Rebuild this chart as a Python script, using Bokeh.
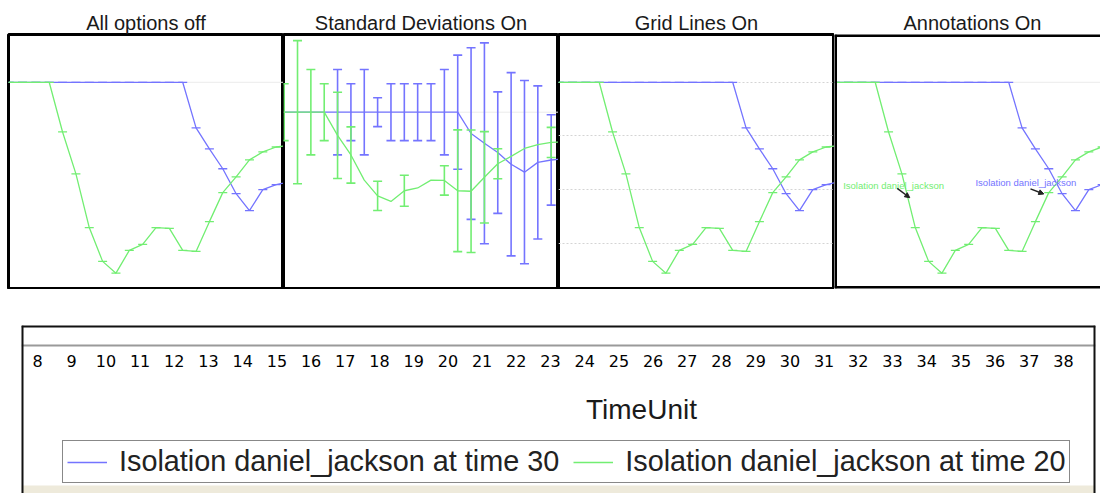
from bokeh.plotting import figure
from bokeh.layouts import column, row
from bokeh.models import (Range1d, Span, Arrow, NormalHead, Label, Legend, LegendItem,
                          FixedTicker, LinearAxis, ColumnDataSource, Grid, BoxAnnotation)
from bokeh.embed import file_html
from bokeh.resources import INLINE

# ---------------- data ----------------
panel_titles = ["All options off", "Standard Deviations On", "Grid Lines On", "Annotations On"]
time_index = list(range(0, 22))
blue_mean = [1.0, 1.0, 1.0, 1.0, 1.0, 1.0, 1.0, 1.0, 1.0, 1.0, 1.0, 1.0, 1.0, 1.0,
             0.830, 0.752, 0.678, 0.585, 0.522, 0.600, 0.619, 0.630]
green_mean = [1.0, 1.0, 1.0, 1.0, 0.815, 0.659, 0.459, 0.333, 0.289, 0.374, 0.396,
              0.459, 0.456, 0.374, 0.370, 0.481, 0.589, 0.648, 0.711, 0.741, 0.759, 0.765]
blue_std = [0, 0, 0, 0, 0.34, 0.227, 0.34, 0.115, 0.227, 0.227, 0.227, 0.227, 0.34,
            0.455, 0.684, 0.80, 0.484, 0.73, 0.73, 0.61, 0.36, 0.36]
green_std = [0.227, 0.57, 0.34, 0.227, 0.344, 0.224, 0, 0.117, 0, 0.123, 0, 0, 0.117,
             0.485, 0.488, 0.364, 0.12, 0, 0, 0, 0.12, 0.12]
grid_values = [0.4, 0.6, 0.8, 1.0]

annot_text = ["Isolation daniel_jackson", "Isolation daniel_jackson"]
annot_text_x = [0.60, 10.51]
annot_text_y = [0.615, 0.625]
annot_tail_x = [4.65, 14.63]
annot_tail_y = [0.605, 0.603]
annot_head_x = [5.59, 15.63]
annot_head_y = [0.570, 0.584]

time_ticks = list(range(8, 39))
x_axis_title = "TimeUnit"
legend_labels = ["Isolation daniel_jackson at time 30", "Isolation daniel_jackson at time 20"]

# ---------------- style ----------------
BLUE = "#7474ff"
GREEN = "#72ee72"
FONT = "Liberation Sans"
PX_PER_T = 13.35
X0 = -0.05
frame_widths = [275, 275, 276, 266]
left_pad = [8, 0, 0, 0]
yr_normal = (0.232, 1.178)
yr_std = (-0.405, 1.619)
ann_colors = [GREEN, BLUE]


def series_split(mean, std):
    xs, ys, lo, hi = [], [], [], []
    for t, m, s in zip(time_index, mean, std):
        if s > 0:
            xs.append(t); ys.append(m); lo.append(m - s); hi.append(m + s)
    return xs, ys, lo, hi


def make_panel(i):
    w = frame_widths[i]
    yr = yr_std if i == 1 else yr_normal
    p = figure(width=w + left_pad[i], height=289, title=panel_titles[i],
               x_range=Range1d(X0, X0 + w / PX_PER_T), y_range=Range1d(*yr),
               toolbar_location=None, output_backend="svg",
               x_axis_location=None, y_axis_location=None,
               min_border_left=left_pad[i], min_border_right=0,
               min_border_top=34, min_border_bottom=1)
    p.grid.visible = False
    p.background_fill_color = "white"
    p.border_fill_color = "white"
    p.title.text_font = FONT
    p.title.text_font_size = "20px"
    p.title.text_font_style = "normal"
    p.title.text_color = "#1a1a1a"
    p.title.align = "center"
    p.title.standoff = 2
    if i == 3:
        p.title.align = "left"
        p.title.offset = 69
        p.outline_line_color = None
        for loc, dim in ((X0, "height"), (yr[0], "width"), (yr[1], "width")):
            p.add_layout(Span(location=loc, dimension=dim, line_color="black", line_width=5))
    else:
        p.outline_line_color = "black"
        p.outline_line_width = 3

    if i == 2:
        p.add_layout(Grid(dimension=1, ticker=FixedTicker(ticks=grid_values),
                          grid_line_color="#d4d4d4", grid_line_dash="2 2", grid_line_width=1))
    else:
        p.add_layout(Span(location=max(blue_mean), dimension="width",
                          line_color="#ebebeb", line_width=1, level="underlay"))

    for mean, std, col in ((blue_mean, blue_std, BLUE), (green_mean, green_std, GREEN)):
        p.line(time_index, mean, line_color=col, line_width=1.3)
        if i == 1:
            xs, ys, lo, hi = series_split(mean, std)
            p.segment(x0=xs, y0=lo, x1=xs, y1=hi, line_color=col, line_width=1.6)
            p.scatter(xs + xs, lo + hi, marker="dash", size=9, line_color=col, line_width=1.6)
        else:
            p.scatter(time_index, mean, marker="dash", size=9, line_color=col, line_width=1.3)

    if i == 3:
        for k in range(2):
            p.add_layout(Label(x=annot_text_x[k], y=annot_text_y[k], text=annot_text[k],
                               text_font=FONT, text_font_size="9.5px", text_color=ann_colors[k],
                               text_baseline="middle", text_align="left"))
        src = ColumnDataSource(dict(x0=annot_tail_x, y0=annot_tail_y, x1=annot_head_x, y1=annot_head_y))
        p.add_layout(Arrow(source=src, x_start="x0", y_start="y0", x_end="x1", y_end="y1",
                           line_color="#222222", line_width=1.5,
                           end=NormalHead(size=5, fill_color="#222222", line_color="#222222")))
    return p


panels = [make_panel(i) for i in range(4)]

# ---------------- bottom strip (axis + legend) ----------------
bx0 = 8 + (21 - 37) / 34.2
bx1 = 8 + (1095 - 37) / 34.2
pb = figure(width=1100, height=204, x_range=Range1d(bx0, bx1), y_range=Range1d(0, 1),
            toolbar_location=None, output_backend="svg",
            x_axis_location=None, y_axis_location=None,
            min_border_left=21, min_border_right=5, min_border_top=36, min_border_bottom=0)
pb.grid.visible = False
pb.outline_line_color = None
pb.add_layout(BoxAnnotation(top=8 / 168, fill_color="#eeeadb", fill_alpha=1.0,
                            line_color=None, level="underlay"))
for loc, dim in ((bx0, "height"), (bx1, "height"), (1.0, "width")):
    pb.add_layout(Span(location=loc, dimension=dim, line_color="#111111", line_width=4))

ax = LinearAxis(fixed_location=1 - 20 / 168, ticker=FixedTicker(ticks=time_ticks))
ax.axis_line_color = "#9a9a9a"
ax.axis_line_width = 2
ax.major_tick_line_color = None
ax.minor_tick_line_color = None
ax.major_tick_out = 0
ax.major_tick_in = 0
ax.major_label_standoff = 9
ax.major_label_text_font = "DejaVu Sans"
ax.major_label_text_font_size = "16px"
ax.major_label_text_color = "#000000"
pb.add_layout(ax, "below")

pb.add_layout(Label(x=25.66, y=0.5, text=x_axis_title, text_font=FONT,
                    text_font_size="28px", text_color="#1a1a1a",
                    text_align="center", text_baseline="middle"))

r_blue = pb.line(x=time_ticks[:2], y=[-1.0, -1.0], line_color=BLUE, line_width=1.5)
r_green = pb.line(x=time_ticks[:2], y=[-1.0, -1.0], line_color=GREEN, line_width=1.5)
legend = Legend(items=[LegendItem(label=legend_labels[0], renderers=[r_blue]),
                       LegendItem(label=legend_labels[1], renderers=[r_green])],
                orientation="horizontal", location=(41, 10),
                label_text_font=FONT, label_text_font_size="28.8px", label_text_color="#222222",
                glyph_width=40, label_standoff=12, spacing=14, padding=4, margin=0,
                border_line_color="#111111", border_line_width=1.5,
                background_fill_color="white", background_fill_alpha=1.0)
pb.add_layout(legend, "center")

layout = column(row(*panels, spacing=0), pb, spacing=0)
open("out.html", "w").write(file_html(layout, INLINE))
